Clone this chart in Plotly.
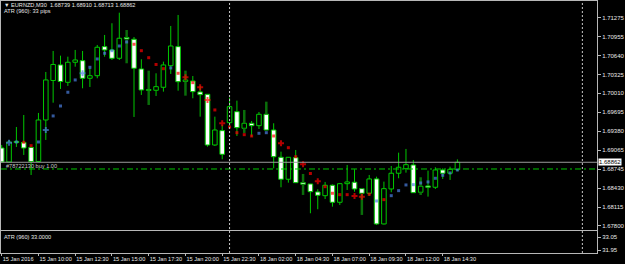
import plotly.graph_objects as go

# ---------------- data ----------------
tick_labels = ["15 Jan 2016", "15 Jan 10:00", "15 Jan 12:30", "15 Jan 15:00", "15 Jan 17:30",
               "15 Jan 20:00", "15 Jan 22:30", "18 Jan 02:00", "18 Jan 04:30", "18 Jan 07:00",
               "18 Jan 09:30", "18 Jan 12:00", "18 Jan 14:30"]
tick_bars = [0, 5, 10, 15, 20, 25, 30, 35, 40, 45, 50, 55, 60]

opens = [1.69100, 1.68867, 1.69209, 1.69192, 1.69109, 1.68875, 1.69567, 1.70225, 1.70484, 1.70195,
         1.70529, 1.70555, 1.70262, 1.70305, 1.70789, 1.70734, 1.70595, 1.70942, 1.70912, 1.70417,
         1.70059, 1.70062, 1.70112, 1.70472, 1.70789, 1.70209, 1.70217, 1.70034, 1.69995, 1.69150,
         1.69389, 1.69522, 1.69705, 1.69429, 1.69512, 1.69472, 1.69662, 1.69400, 1.68945, 1.68579,
         1.68939, 1.68522, 1.68500, 1.68367, 1.68305, 1.68479, 1.68195, 1.68505, 1.68529, 1.68422,
         1.68345, 1.68584, 1.67834, 1.68417, 1.68679, 1.68755, 1.68817, 1.68362, 1.68467, 1.68445,
         1.68734, 1.68679, 1.68739]
highs = [1.69150, 1.69234, 1.69450, 1.69650, 1.69117, 1.69684, 1.70367, 1.70717, 1.70639, 1.70622,
         1.70734, 1.70717, 1.70434, 1.70817, 1.70984, 1.71179, 1.71355, 1.71067, 1.70950, 1.70579,
         1.70389, 1.70345, 1.70539, 1.71134, 1.71317, 1.70389, 1.70300, 1.70134, 1.70000, 1.69622,
         1.69484, 1.69939, 1.69889, 1.69734, 1.69550, 1.69700, 1.69872, 1.69512, 1.69039, 1.68950,
         1.69067, 1.68667, 1.68500, 1.68412, 1.68534, 1.68492, 1.68517, 1.68817, 1.68745, 1.68434,
         1.68650, 1.68622, 1.68539, 1.68800, 1.69022, 1.69084, 1.68900, 1.68612, 1.68722, 1.68779,
         1.68762, 1.68789, 1.68910]
lows = [1.68850, 1.68859, 1.69117, 1.68984, 1.68650, 1.68867, 1.69234, 1.69855, 1.70084, 1.70134,
        1.70455, 1.70095, 1.70117, 1.70262, 1.70622, 1.70567, 1.70567, 1.70512, 1.69617, 1.69984,
        1.69817, 1.69967, 1.70039, 1.70334, 1.70055, 1.69972, 1.69929, 1.69622, 1.69122, 1.69134,
        1.68912, 1.69467, 1.69300, 1.69350, 1.69289, 1.69417, 1.69384, 1.68762, 1.68445, 1.68522,
        1.68517, 1.68317, 1.68012, 1.68079, 1.68250, 1.68122, 1.68150, 1.68400, 1.68372, 1.67984,
        1.68300, 1.67817, 1.67825, 1.68362, 1.68595, 1.68689, 1.68350, 1.68317, 1.68289, 1.68417,
        1.68584, 1.68567, 1.68713]
closes = [1.68867, 1.69200, 1.69192, 1.69100, 1.68875, 1.69567, 1.70234, 1.70492, 1.70209, 1.70529,
          1.70567, 1.70262, 1.70305, 1.70779, 1.70734, 1.70595, 1.70929, 1.70917, 1.70429, 1.70067,
          1.70075, 1.70122, 1.70484, 1.70800, 1.70205, 1.70234, 1.70039, 1.69989, 1.69150, 1.69400,
          1.68995, 1.69789, 1.69439, 1.69512, 1.69472, 1.69662, 1.69400, 1.68955, 1.68579, 1.68945,
          1.68522, 1.68495, 1.68372, 1.68312, 1.68479, 1.68195, 1.68505, 1.68534, 1.68417, 1.68345,
          1.68584, 1.67834, 1.68422, 1.68679, 1.68779, 1.68822, 1.68355, 1.68462, 1.68445, 1.68734,
          1.68679, 1.68745, 1.68862]

# trailing-stop style dots: level and direction (u = below price / blue, d = above / red)
stop_level = [None, 1.69189, 1.69200, 1.69195, 1.69139, 1.69200, 1.69400, 1.69634, 1.69800, 1.70029,
              1.70234, 1.70345, 1.70445, 1.70584, 1.70679, 1.70722, 1.70800, 1.70867, 1.70829, 1.70722,
              1.70605, 1.70492, 1.70422, 1.70434, 1.70345, 1.70279, 1.70189, 1.70112, 1.69900, 1.69734,
              1.69512, 1.69450, 1.69355, 1.69322, 1.69300, 1.69345, 1.69355, 1.69300, 1.69179, 1.69105,
              1.68955, 1.68829, 1.68675, 1.68545, 1.68455, 1.68345, 1.68322, 1.68322, 1.68300, 1.68289,
              1.68329, 1.68217, 1.68239, 1.68305, 1.68389, 1.68484, 1.68489, 1.68517, 1.68534, 1.68595,
              1.68645, 1.68684, 1.68734]
stop_dir = "-uudduuuuuuuuuuuuuddddduddddddddddduudddddddddddddduduuuuuuuuuuu"
cross_bars = [1, 6, 11, 25, 27, 28, 30, 38, 41, 43, 48, 49]
dark_wick_bars = [17, 20, 25, 33, 36, 41, 49, 57]

day_separators = [31, 79]
trade_price = 1.68750
trade_text = "#78722130 buy 1.00"
symbol_text = "\u25bc EURNZD,M30  1.68739 1.68910 1.68713 1.68862"
atr_text = "ATR (960): 33 pips"
atr_sub_text = "ATR (960) 33.0000"

price_ticks = [1.71275, 1.70955, 1.70640, 1.70325, 1.70010, 1.69695, 1.69380, 1.69065,
               1.68745, 1.68430, 1.68115, 1.67800]
price_tick_text = ["1.71275", "1.70955", "1.70640", "1.70325", "1.70010", "1.69695", "1.69380",
                   "1.69065", "1.68745", "1.68430", "1.68115", "1.67800"]
atr_ticks = [33.05, 31.95]
atr_tick_text = ["33.05", "31.95"]

# ---------------- style ----------------
GREEN = "#00C800"
DARKGREEN = "#0A6E0A"
FRAME = "#B8B8B8"
TXT = "#E8E8E8"
FONT = "Liberation Sans, Arial, sans-serif"
FS = 6
FSX = 5.6

N = len(opens)
idx = list(range(N))

fig = go.Figure()

# wicks (split so they don't cross the bodies)
wx, wy, dx, dy = [], [], [], []
for i in idx:
    top = max(opens[i], closes[i])
    bot = min(opens[i], closes[i])
    tx, ty = (dx, dy) if i in dark_wick_bars else (wx, wy)
    tx += [i, i, None, i, i, None]
    ty += [highs[i], top, None, bot, lows[i], None]
fig.add_trace(go.Scatter(x=dx, y=dy, mode="lines", line=dict(color=DARKGREEN, width=2.5),
                         hoverinfo="skip"))
fig.add_trace(go.Scatter(x=wx, y=wy, mode="lines", line=dict(color=GREEN, width=1),
                         hoverinfo="skip"))

# bodies
min_h = 0.00015
for bull in (True, False):
    xs, base, h = [], [], []
    for i in idx:
        if (closes[i] >= opens[i]) == bull:
            xs.append(i)
            base.append(min(opens[i], closes[i]))
            h.append(max(abs(closes[i] - opens[i]), min_h))
    fig.add_trace(go.Bar(x=xs, y=h, base=base, width=0.62,
                         marker=dict(color="black" if bull else "white",
                                     line=dict(color=GREEN, width=1)),
                         hoverinfo="skip"))

# stop dots
for d, col in (("u", "#4A7FE0"), ("d", "#FF0000")):
    xs, ys, sy, sz = [], [], [], []
    for i in idx:
        if stop_dir[i] == d and stop_level[i] is not None:
            xs.append(i)
            ys.append(stop_level[i])
            if i in cross_bars:
                sy.append("cross")
                sz.append(5)
            else:
                sy.append("square")
                sz.append(3)
    fig.add_trace(go.Scatter(x=xs, y=ys, mode="markers",
                             marker=dict(color=col, symbol=sy, size=sz, line=dict(width=0)),
                             hoverinfo="skip"))

# subwindow placeholder
fig.add_trace(go.Scatter(x=[], y=[], xaxis="x2", yaxis="y2"))

shapes = []
# current price line
shapes.append(dict(type="line", xref="paper", x0=0, x1=1, yref="y", y0=closes[-1], y1=closes[-1],
                   line=dict(color="#9A9A9A", width=1)))
# trade line
shapes.append(dict(type="line", xref="paper", x0=0, x1=1, yref="y", y0=trade_price, y1=trade_price,
                   line=dict(color=GREEN, width=1, dash="6px,3px,2px,3px")))
for s in day_separators:
    shapes.append(dict(type="line", xref="x", x0=s, x1=s, yref="paper", y0=0, y1=1,
                       line=dict(color="#C8C8C8", width=1, dash="2px,2px")))

W, H = 625, 264
ml, mr, mt, mb = 1, 28, 1, 11
plot_h = H - mt - mb
main_bot = (H - mb - 230) / plot_h
sub_top = (H - mb - 231) / plot_h

xr = [-0.095, 80.99]
axcommon = dict(showgrid=False, zeroline=False, showline=True, mirror=True, linecolor=FRAME,
                linewidth=1)

fig.update_layout(
    width=W, height=H, margin=dict(l=ml, r=mr, t=mt, b=mb, autoexpand=False),
    paper_bgcolor="black", plot_bgcolor="black", showlegend=False, barmode="overlay",
    font=dict(family=FONT, size=FS, color=TXT),
    xaxis=dict(domain=[0, 1], range=xr, anchor="y", showticklabels=False, ticks="", **axcommon),
    xaxis2=dict(domain=[0, 1], range=xr, anchor="y2", matches="x", tickmode="array",
                tickvals=tick_bars, ticktext=tick_labels, ticks="outside", ticklen=2,
                tickcolor=FRAME, ticklabelposition="outside right", tickangle=0,
                ticklabelstandoff=0,
                tickfont=dict(family=FONT, size=FSX, color=TXT), **axcommon),
    yaxis=dict(domain=[main_bot, 1], range=[1.67733, 1.71550], side="right", anchor="x",
               tickmode="array", tickvals=price_ticks, ticktext=price_tick_text, ticks="outside",
               ticklen=3, tickcolor=FRAME, tickfont=dict(family=FONT, size=FS, color=TXT),
               **axcommon),
    yaxis2=dict(domain=[0, sub_top], range=[31.696, 33.558], side="right", anchor="x2",
                tickmode="array", tickvals=atr_ticks, ticktext=atr_tick_text, ticks="outside",
                ticklen=3, tickcolor=FRAME, tickfont=dict(family=FONT, size=FS, color=TXT),
                **axcommon),
    shapes=shapes,
)

ann = []
ann.append(dict(xref="paper", yref="paper", x=0.003, y=(H - mb - 5.0) / plot_h, text=symbol_text,
                showarrow=False, xanchor="left", yanchor="middle", borderpad=0,
                font=dict(family=FONT, size=FSX, color=TXT)))
ann.append(dict(xref="paper", yref="paper", x=0.003, y=(H - mb - 11.5) / plot_h, text=atr_text,
                showarrow=False, xanchor="left", yanchor="middle", borderpad=0,
                font=dict(family=FONT, size=FSX, color=TXT)))
ann.append(dict(xref="paper", yref="y", x=0.006, y=trade_price, text=trade_text, showarrow=False,
                xanchor="left", yanchor="bottom", yshift=-1, borderpad=0,
                font=dict(family=FONT, size=FSX, color="#C8C8C8")))
ann.append(dict(xref="paper", yref="paper", x=0.003, y=(H - mb - 237) / plot_h, text=atr_sub_text,
                showarrow=False, xanchor="left", yanchor="middle", borderpad=0,
                font=dict(family=FONT, size=FSX, color=TXT)))
ann.append(dict(xref="paper", yref="y", x=1, y=closes[-1], text="1.68862", showarrow=False,
                xanchor="left", yanchor="middle", xshift=1, bgcolor="white", borderpad=0,
                font=dict(family=FONT, size=FS, color="black")))
fig.update_layout(annotations=ann)

fig.write_html("out.html")
